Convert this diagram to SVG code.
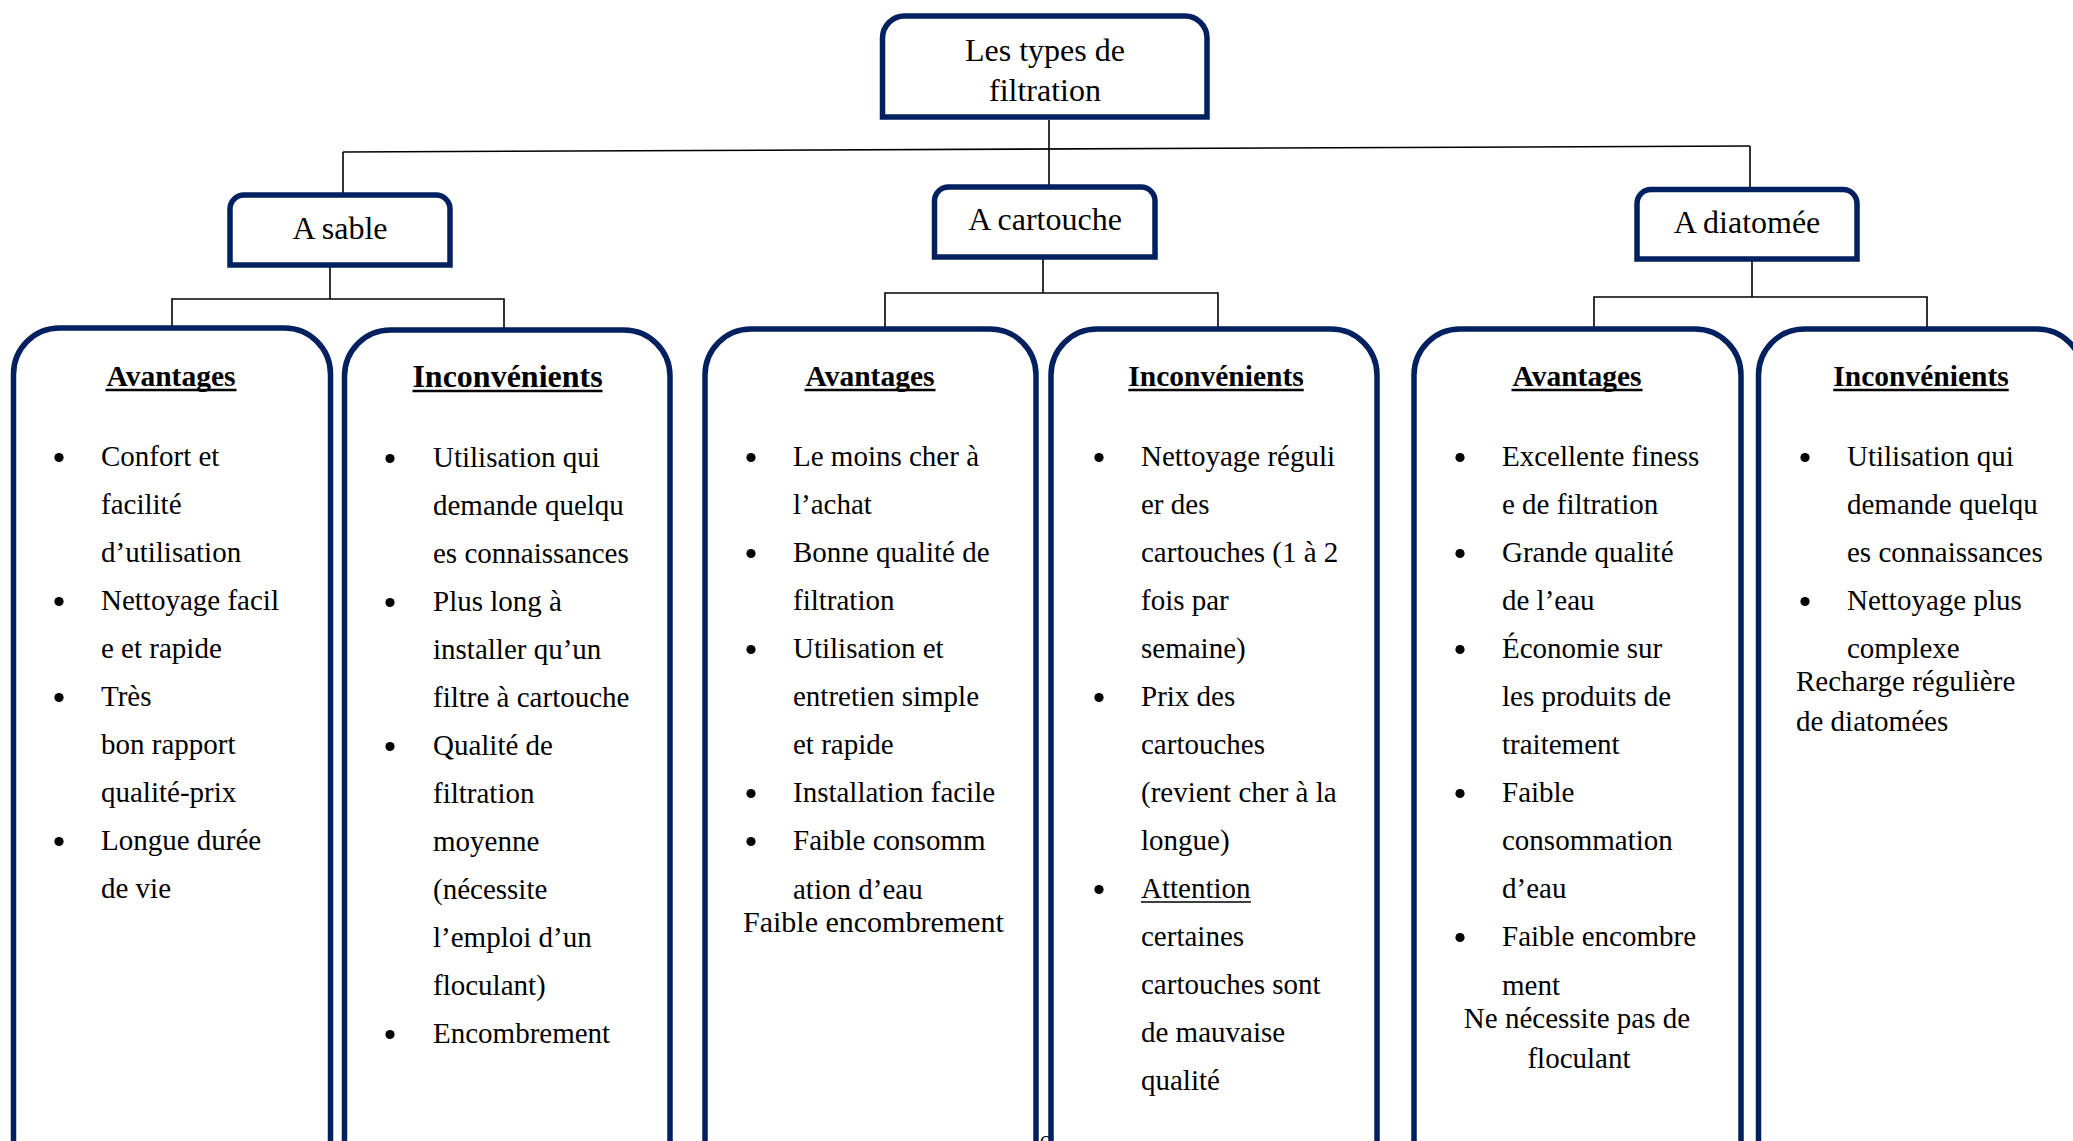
<svg xmlns="http://www.w3.org/2000/svg" width="2073" height="1141" viewBox="0 0 2073 1141">
<style>
.box{fill:#ffffff;stroke:#002060;stroke-width:5.5}
.col{fill:#ffffff;stroke:#002060;stroke-width:5.5}
.con{fill:none;stroke:#000000;stroke-width:1.6}
.t{font-family:"Liberation Serif","Times New Roman",serif;font-size:29px;fill:#000000}
.tt{font-family:"Liberation Serif","Times New Roman",serif;font-size:32px;fill:#000000;text-anchor:middle}
.h{font-family:"Liberation Serif","Times New Roman",serif;font-size:29.5px;font-weight:bold;fill:#000000;text-anchor:middle}
.c{text-anchor:middle}
.ul{stroke:#000000;stroke-width:2.5}
.b{fill:#000000}
.pg{font-family:"Liberation Serif","Times New Roman",serif;font-size:22px;fill:#000000;text-anchor:middle}
</style>
<rect width="2073" height="1141" fill="#ffffff"/>
<text class="pg" x="1045" y="1150">6</text>

<g id="connectors">
<line class="con" x1="1049" y1="120" x2="1049" y2="187"/>
<line class="con" x1="343" y1="152" x2="1750" y2="146"/>
<line class="con" x1="343" y1="152" x2="343" y2="195"/>
<line class="con" x1="1750" y1="146" x2="1750" y2="189"/>
<polyline class="con" points="172,330 172,299 504,299 504,331"/>
<line class="con" x1="330" y1="265" x2="330" y2="299"/>
<polyline class="con" points="885,330 885,293 1218,293 1218,330"/>
<line class="con" x1="1043" y1="257" x2="1043" y2="293"/>
<polyline class="con" points="1594,330 1594,297 1927,297 1927,330"/>
<line class="con" x1="1752" y1="259" x2="1752" y2="297"/>
</g>

<g id="root">
<path class="box" d="M882.5,117 V38 A22,22 0 0 1 904.5,16 H1185 A22,22 0 0 1 1207,38 V117 Z"/>
<text class="tt" x="1045" y="61">Les types de</text>
<text class="tt" x="1045" y="101">filtration</text>
</g>

<g id="sable">
<path class="box" d="M230,265 V209 A14,14 0 0 1 244,195 H436 A14,14 0 0 1 450,209 V265 Z"/>
<text class="tt" x="340" y="239">A sable</text>
</g>

<g id="cartouche">
<path class="box" d="M934.5,257 V201 A14,14 0 0 1 948.5,187 H1141 A14,14 0 0 1 1155,201 V257 Z"/>
<text class="tt" x="1045" y="230">A cartouche</text>
</g>

<g id="diatomee">
<path class="box" d="M1637,259 V203.5 A14,14 0 0 1 1651,189.5 H1843 A14,14 0 0 1 1857,203.5 V259 Z"/>
<text class="tt" x="1747" y="233">A diatomée</text>
</g>

<g id="sable-avantages">
<path class="col" d="M13.5,1150 V374 A46,46 0 0 1 59.5,328 H284.5 A46,46 0 0 1 330.5,374 V1150"/>
<text class="h" x="171" y="386">Avantages</text>
<line class="ul" x1="105.5" y1="390" x2="236.5" y2="390"/>
<circle class="b" cx="59" cy="457.5" r="4.6"/>
<circle class="b" cx="59" cy="601.5" r="4.6"/>
<circle class="b" cx="59" cy="697.5" r="4.6"/>
<circle class="b" cx="59" cy="841.5" r="4.6"/>
<text class="t" x="101" y="466">Confort et</text>
<text class="t" x="101" y="514">facilité</text>
<text class="t" x="101" y="562">d’utilisation</text>
<text class="t" x="101" y="610">Nettoyage facil</text>
<text class="t" x="101" y="658">e et rapide</text>
<text class="t" x="101" y="706">Très</text>
<text class="t" x="101" y="754">bon rapport</text>
<text class="t" x="101" y="802">qualité-prix</text>
<text class="t" x="101" y="850">Longue durée</text>
<text class="t" x="101" y="898">de vie</text>
</g>

<g id="sable-inconvenients">
<path class="col" d="M344.5,1150 V376 A46,46 0 0 1 390.5,330 H624 A46,46 0 0 1 670,376 V1150"/>
<text class="h" x="507.5" y="387" style="font-size:32px">Inconvénients</text>
<line class="ul" x1="412.5" y1="391" x2="602.5" y2="391"/>
<circle class="b" cx="390" cy="458.5" r="4.6"/>
<circle class="b" cx="390" cy="602.5" r="4.6"/>
<circle class="b" cx="390" cy="746.5" r="4.6"/>
<circle class="b" cx="390" cy="1034.5" r="4.6"/>
<text class="t" x="433" y="467">Utilisation qui</text>
<text class="t" x="433" y="515">demande quelqu</text>
<text class="t" x="433" y="563">es connaissances</text>
<text class="t" x="433" y="611">Plus long à</text>
<text class="t" x="433" y="659">installer qu’un</text>
<text class="t" x="433" y="707">filtre à cartouche</text>
<text class="t" x="433" y="755">Qualité de</text>
<text class="t" x="433" y="803">filtration</text>
<text class="t" x="433" y="851">moyenne</text>
<text class="t" x="433" y="899">(nécessite</text>
<text class="t" x="433" y="947">l’emploi d’un</text>
<text class="t" x="433" y="995">floculant)</text>
<text class="t" x="433" y="1043">Encombrement</text>
</g>

<g id="cartouche-avantages">
<path class="col" d="M705,1150 V375 A46,46 0 0 1 751,329 H990 A46,46 0 0 1 1036,375 V1150"/>
<text class="h" x="870" y="386">Avantages</text>
<line class="ul" x1="804.5" y1="390" x2="935.5" y2="390"/>
<circle class="b" cx="751" cy="457.5" r="4.6"/>
<circle class="b" cx="751" cy="553.5" r="4.6"/>
<circle class="b" cx="751" cy="649.5" r="4.6"/>
<circle class="b" cx="751" cy="793.5" r="4.6"/>
<circle class="b" cx="751" cy="841.5" r="4.6"/>
<text class="t" x="793" y="466">Le moins cher à</text>
<text class="t" x="793" y="514">l’achat</text>
<text class="t" x="793" y="562">Bonne qualité de</text>
<text class="t" x="793" y="610">filtration</text>
<text class="t" x="793" y="658">Utilisation et</text>
<text class="t" x="793" y="706">entretien simple</text>
<text class="t" x="793" y="754">et rapide</text>
<text class="t" x="793" y="802">Installation facile</text>
<text class="t" x="793" y="850">Faible consomm</text>
<text class="t" x="793" y="899">ation d’eau</text>
<text class="t" x="743" y="932" style="font-size:30px">Faible encombrement</text>
</g>

<g id="cartouche-inconvenients">
<path class="col" d="M1051,1150 V375 A46,46 0 0 1 1097,329 H1331 A46,46 0 0 1 1377,375 V1150"/>
<text class="h" x="1216" y="386">Inconvénients</text>
<line class="ul" x1="1128.3" y1="390" x2="1303.7" y2="390"/>
<circle class="b" cx="1099" cy="457.5" r="4.6"/>
<circle class="b" cx="1099" cy="697.5" r="4.6"/>
<circle class="b" cx="1099" cy="889.5" r="4.6"/>
<text class="t" x="1141" y="466">Nettoyage réguli</text>
<text class="t" x="1141" y="514">er des</text>
<text class="t" x="1141" y="562">cartouches (1 à 2</text>
<text class="t" x="1141" y="610">fois par</text>
<text class="t" x="1141" y="658">semaine)</text>
<text class="t" x="1141" y="706">Prix des</text>
<text class="t" x="1141" y="754">cartouches</text>
<text class="t" x="1141" y="802">(revient cher à la</text>
<text class="t" x="1141" y="850">longue)</text>
<text class="t" x="1141" y="898">Attention</text>
<line class="ul" x1="1141" y1="902" x2="1251" y2="902" style="stroke-width:1.6"/>
<text class="t" x="1141" y="946">certaines</text>
<text class="t" x="1141" y="994">cartouches sont</text>
<text class="t" x="1141" y="1042">de mauvaise</text>
<text class="t" x="1141" y="1090">qualité</text>
</g>

<g id="diatomee-avantages">
<path class="col" d="M1414,1150 V375 A46,46 0 0 1 1460,329 H1695 A46,46 0 0 1 1741,375 V1150"/>
<text class="h" x="1577" y="386">Avantages</text>
<line class="ul" x1="1511.5" y1="390" x2="1642.5" y2="390"/>
<circle class="b" cx="1460" cy="457.5" r="4.6"/>
<circle class="b" cx="1460" cy="553.5" r="4.6"/>
<circle class="b" cx="1460" cy="649.5" r="4.6"/>
<circle class="b" cx="1460" cy="793.5" r="4.6"/>
<circle class="b" cx="1460" cy="937.5" r="4.6"/>
<text class="t" x="1502" y="466">Excellente finess</text>
<text class="t" x="1502" y="514">e de filtration</text>
<text class="t" x="1502" y="562">Grande qualité</text>
<text class="t" x="1502" y="610">de l’eau</text>
<text class="t" x="1502" y="658">Économie sur</text>
<text class="t" x="1502" y="706">les produits de</text>
<text class="t" x="1502" y="754">traitement</text>
<text class="t" x="1502" y="802">Faible</text>
<text class="t" x="1502" y="850">consommation</text>
<text class="t" x="1502" y="898">d’eau</text>
<text class="t" x="1502" y="946">Faible encombre</text>
<text class="t" x="1502" y="995">ment</text>
<text class="t c" x="1577" y="1028">Ne nécessite pas de</text>
<text class="t c" x="1579" y="1068">floculant</text>
</g>

<g id="diatomee-inconvenients">
<path class="col" d="M1758.5,1150 V375 A46,46 0 0 1 1804.5,329 H2037 A46,46 0 0 1 2083,375 V1150"/>
<text class="h" x="1921" y="386">Inconvénients</text>
<line class="ul" x1="1833.3" y1="390" x2="2008.7" y2="390"/>
<circle class="b" cx="1805" cy="457.5" r="4.6"/>
<circle class="b" cx="1805" cy="601.5" r="4.6"/>
<text class="t" x="1847" y="466">Utilisation qui</text>
<text class="t" x="1847" y="514">demande quelqu</text>
<text class="t" x="1847" y="562">es connaissances</text>
<text class="t" x="1847" y="610">Nettoyage plus</text>
<text class="t" x="1847" y="658">complexe</text>
<text class="t" x="1796" y="691">Recharge régulière</text>
<text class="t" x="1796" y="731">de diatomées</text>
</g>
</svg>
